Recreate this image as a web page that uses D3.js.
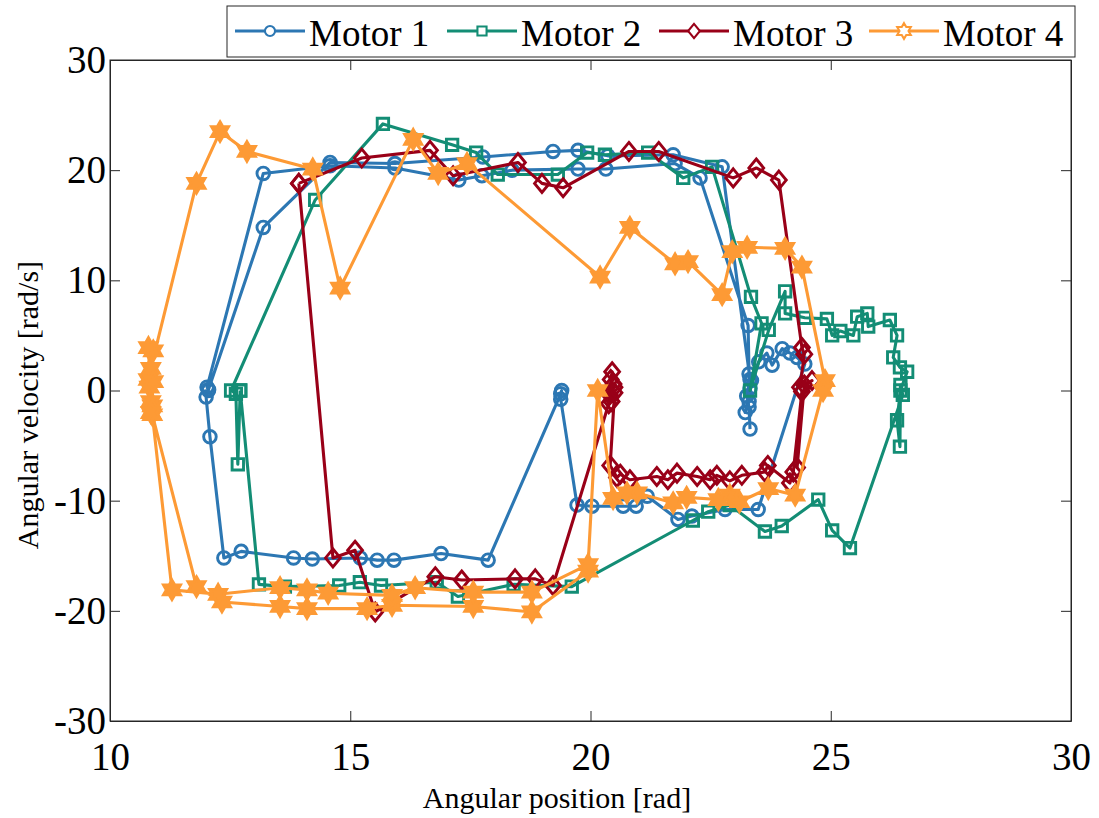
<!DOCTYPE html>
<html>
<head>
<meta charset="utf-8">
<script src="https://cdn.jsdelivr.net/npm/d3@7"></script>
<style>
  html, body { margin: 0; padding: 0; background: #fff; }
  svg { display: block; }
  text { font-family: "Liberation Serif", "Times New Roman", serif; fill: #000; }
</style>
</head>
<body>
<svg id="chart" width="1099" height="818"></svg>
<script>
// Phase-plane trajectories of four motors: angular position vs angular velocity.

const seriesNames = ["Motor 1", "Motor 2", "Motor 3", "Motor 4"];
const xTicks = [10, 15, 20, 25, 30];
const yTicks = [-30, -20, -10, 0, 10, 20, 30];

// Motor 1 (rad, rad/s)
const motor1Pos = [12.05, 12.02, 13.19, 14.58, 15.93, 17.26, 17.74, 18.37, 19.74, 20.32, 21.76, 22.28,
  23.28, 23.30, 23.32, 23.22, 23.30, 23.35, 23.50, 23.67, 23.78, 23.99, 24.15, 24.30, 24.46,
  23.49, 22.80, 22.11, 21.82, 21.18, 20.95, 20.68, 20.03, 19.72, 19.38, 19.40, 19.38,
  17.87, 16.89, 15.91, 15.56, 15.21, 14.21, 13.82, 12.73, 12.37, 12.08, 12.00, 12.05,
  13.19, 14.58, 15.93, 17.76, 19.22, 19.74, 20.36, 21.72, 22.74, 23.32, 23.25, 23.30, 23.32];
const motor1Vel = [0.0, 0.3, 19.7, 20.4, 20.2, 19.1, 19.5, 20.0, 20.1, 20.1, 20.6, 19.3,
  5.9, 1.5, 0.2, -2.0, -1.0, 0.9, 2.6, 3.4, 2.3, 3.8, 3.4, 3.0, 2.4,
  -10.8, -10.8, -11.4, -11.7, -9.6, -10.5, -10.5, -10.5, -10.4, -0.8, 0.0, -0.3,
  -15.4, -14.8, -15.4, -15.4, -15.2, -15.3, -15.2, -14.6, -15.2, -4.2, -0.6, 0.1,
  14.8, 20.7, 20.6, 21.2, 21.7, 21.8, 21.3, 21.4, 20.3, 1.0, -0.5, -1.5, -3.5];

// Motor 2
const motor2Pos = [12.71, 12.66, 12.62, 12.52, 14.27, 15.68, 17.12, 17.62, 18.07, 19.32, 19.93, 20.30,
  21.20, 21.93, 22.53, 23.34, 23.56, 23.32, 23.71, 24.05, 24.05, 24.46, 24.92, 25.03, 25.20,
  25.47, 25.55, 25.76, 25.78, 26.23, 26.38, 26.30, 26.44, 26.59, 26.45, 26.38, 26.44, 26.45, 26.50,
  25.40, 25.03, 24.74, 23.98, 23.63, 22.90, 22.45, 22.13, 19.61, 18.40, 17.24, 16.80,
  15.64, 15.20, 14.77, 13.64, 13.10, 12.71];
const motor2Vel = [0.0, -6.7, -0.3, 0.0, 17.3, 24.2, 22.3, 21.6, 19.6, 19.6, 21.6, 21.4,
  21.6, 19.3, 20.3, 8.5, 6.1, 0.0, 5.5, 9.0, 7.0, 6.6, 6.5, 5.0, 5.4,
  5.0, 6.7, 7.0, 5.8, 6.4, 5.0, 3.0, 2.1, 1.7, 0.0, -2.7, -5.1, 0.5, -0.4,
  -14.3, -12.7, -9.9, -12.3, -12.8, -10.4, -11.0, -11.8, -17.8, -17.6, -18.7, -17.4,
  -17.7, -17.4, -17.7, -17.8, -17.6, 0.0];

// Motor 3
const motor3Pos = [13.93, 14.64, 15.10, 15.52, 16.77, 17.32, 18.43, 18.85, 19.22,
  20.38, 20.45, 20.42, 20.50, 20.40, 20.48, 20.44, 20.50, 20.41,
  20.55, 20.62, 20.82, 21.38, 21.61, 21.80, 22.22, 22.49, 22.63, 22.90, 23.15, 23.63, 23.69,
  24.15, 24.22, 24.40, 24.30, 24.45, 24.61, 24.36, 24.45, 24.40,
  23.92, 23.45, 22.97, 21.42, 20.80, 19.43, 18.99, 18.49, 17.14, 16.66, 15.24, 13.93];
const motor3Vel = [18.8, -15.2, -14.5, -20.1, -16.9, -17.2, -17.1, -17.1, -17.7,
  -1.2, 1.7, 1.0, 0.3, -0.4, 0.6, -1.0, -0.2, -6.8,
  -7.9, -7.6, -8.1, -7.8, -8.1, -7.5, -7.8, -8.1, -7.7, -8.2, -7.7, -7.4, -6.8,
  -8.4, -7.4, -0.1, -7.0, 0.5, 0.9, 0.3, 3.3, 3.9,
  19.1, 20.2, 19.3, 21.7, 21.7, 18.4, 18.8, 20.7, 19.5, 21.8, 21.1, 18.8];

// Motor 4
const motor4Pos = [19.95, 18.78, 17.56, 15.87, 15.35, 14.10, 13.54, 12.33, 11.80,
  10.88, 10.80, 10.90, 10.82, 10.88, 10.85,
  11.80, 12.29, 12.85, 14.22, 14.79, 16.31, 16.83, 17.43, 20.20, 20.82, 21.76, 22.03, 22.74,
  22.95, 23.26, 24.05, 24.40, 24.88, 24.84,
  24.26, 23.70, 23.10, 22.90, 22.66, 22.00, 21.72, 20.97, 20.76, 20.47, 20.15,
  19.95, 18.78, 17.56, 16.35, 15.87, 14.54, 14.10, 13.54, 12.25, 11.29,
  10.85, 10.80, 10.90, 10.85];
const motor4Vel = [-16.4, -20.1, -19.6, -19.5, -19.8, -19.8, -19.6, -19.2, -17.8,
  -2.2, 1.0, 3.6, 0.3, -1.4, 2.0,
  18.8, 23.5, 21.7, 20.1, 9.3, 22.8, 19.7, 20.6, 10.3, 14.8, 11.5, 11.7, 8.7,
  12.6, 13.0, 12.9, 11.2, 0.9, 0.0,
  -9.5, -8.9, -10.1, -9.5, -9.9, -9.7, -10.2, -9.3, -9.3, -9.8, 0.0,
  -15.8, -18.3, -18.3, -17.9, -18.6, -18.4, -18.1, -17.9, -18.5, -18.1,
  -1.0, 3.9, 0.8, -2.0];

const seriesColors = ["#2c77b3", "#138d75", "#990018", "#fd9a35"];
const seriesMarkers = ["circle", "square", "diamond", "hexagram"];

const series = [
  { name: seriesNames[0], pos: motor1Pos, vel: motor1Vel, color: seriesColors[0], marker: seriesMarkers[0] },
  { name: seriesNames[1], pos: motor2Pos, vel: motor2Vel, color: seriesColors[1], marker: seriesMarkers[1] },
  { name: seriesNames[2], pos: motor3Pos, vel: motor3Vel, color: seriesColors[2], marker: seriesMarkers[2] },
  { name: seriesNames[3], pos: motor4Pos, vel: motor4Vel, color: seriesColors[3], marker: seriesMarkers[3] }
];

const svg = d3.select("#chart");
const plot = { left: 110, right: 1071, top: 60, bottom: 721 };
const axisColor = "#262626";

const x = d3.scaleLinear().domain([10, 30]).range([plot.left, plot.right]);
const y = d3.scaleLinear().domain([-30, 30]).range([plot.bottom, plot.top]);

// Marker shapes
function markerPath(type) {
  if (type === "circle") {
    return d3.symbol(d3.symbolCircle, Math.PI * 6.3 * 6.3)();
  }
  if (type === "square") {
    const s = 5.7;
    return `M${-s},${-s}L${s},${-s}L${s},${s}L${-s},${s}Z`;
  }
  if (type === "diamond") {
    const w = 7.4, h = 9;
    return `M0,${-h}L${w},0L0,${h}L${-w},0Z`;
  }
  // six-pointed star
  const R = 9.8, r = R / Math.sqrt(3);
  const pts = d3.range(12).map(k => {
    const a = -Math.PI / 2 + k * Math.PI / 6;
    const rad = k % 2 === 0 ? R : r;
    return [rad * Math.cos(a), rad * Math.sin(a)];
  });
  return "M" + pts.map(p => p[0].toFixed(2) + "," + p[1].toFixed(2)).join("L") + "Z";
}

// Axes box
svg.append("rect")
  .attr("x", plot.left).attr("y", plot.top)
  .attr("width", plot.right - plot.left).attr("height", plot.bottom - plot.top)
  .attr("fill", "none").attr("stroke", axisColor).attr("stroke-width", 1);

const tickFont = 39;

const xAxis = svg.append("g")
  .attr("transform", `translate(0,${plot.bottom})`)
  .call(d3.axisBottom(x).tickValues(xTicks).tickSizeInner(-10).tickSizeOuter(0).tickPadding(21));
const xAxisTop = svg.append("g")
  .attr("transform", `translate(0,${plot.top})`)
  .call(d3.axisTop(x).tickValues(xTicks).tickSizeInner(-10).tickSizeOuter(0).tickFormat(""));
const yAxis = svg.append("g")
  .attr("transform", `translate(${plot.left},0)`)
  .call(d3.axisLeft(y).tickValues(yTicks).tickSizeInner(-10).tickSizeOuter(0).tickPadding(4));
const yAxisRight = svg.append("g")
  .attr("transform", `translate(${plot.right},0)`)
  .call(d3.axisRight(y).tickValues(yTicks).tickSizeInner(-10).tickSizeOuter(0).tickFormat(""));

[xAxis, xAxisTop, yAxis, yAxisRight].forEach(g => {
  g.select(".domain").attr("stroke", axisColor);
  g.selectAll(".tick line").attr("stroke", axisColor);
  g.selectAll(".tick text")
    .attr("fill", "#000")
    .style("font-family", '"Liberation Serif", "Times New Roman", serif')
    .style("font-size", tickFont + "px");
});
yAxis.selectAll(".tick text").text(d => d < 0 ? "-" + Math.abs(d) : String(d));

// Axis titles
svg.append("text")
  .attr("x", 557).attr("y", 808)
  .attr("text-anchor", "middle")
  .style("font-size", "30px")
  .text("Angular position [rad]");

svg.append("text")
  .attr("transform", "translate(38,405) rotate(-90)")
  .attr("text-anchor", "middle")
  .style("font-size", "30px")
  .text("Angular velocity [rad/s]");

// Trajectories
const line = d3.line().x(d => x(d[0])).y(d => y(d[1]));

series.forEach(s => {
  const pts = s.pos.map((p, i) => [p, s.vel[i]]);
  const g = svg.append("g");
  g.append("path")
    .attr("d", line(pts))
    .attr("fill", "none")
    .attr("stroke", s.color)
    .attr("stroke-width", 3.1)
    .attr("stroke-linejoin", "round");
  const shape = markerPath(s.marker);
  g.selectAll("path.mk")
    .data(pts)
    .join("path")
    .attr("class", "mk")
    .attr("d", shape)
    .attr("transform", d => `translate(${x(d[0])},${y(d[1])})`)
    .attr("fill", s.marker === "hexagram" ? s.color : "none")
    .attr("stroke", s.color)
    .attr("stroke-width", 2.9);
});

// Legend
const legend = svg.append("g");
legend.append("rect")
  .attr("x", 227).attr("y", 6).attr("width", 848).attr("height", 51)
  .attr("fill", "#fff").attr("stroke", axisColor).attr("stroke-width", 1);

const legendStarts = [235, 447, 659, 869];
series.forEach((s, i) => {
  const x0 = legendStarts[i];
  const item = legend.append("g").attr("transform", `translate(${x0},31)`);
  item.append("line")
    .attr("x1", 0).attr("x2", 70).attr("y1", 0).attr("y2", 0)
    .attr("stroke", s.color).attr("stroke-width", 3.1);
  item.append("path")
    .attr("d", markerPath(s.marker))
    .attr("transform", "translate(35,0) scale(0.8)")
    .attr("fill", "#fff").attr("stroke", s.color).attr("stroke-width", 2.6);
  item.append("text")
    .attr("x", 74).attr("y", 15)
    .style("font-size", "37px")
    .text(s.name);
});
</script>
</body>
</html>
